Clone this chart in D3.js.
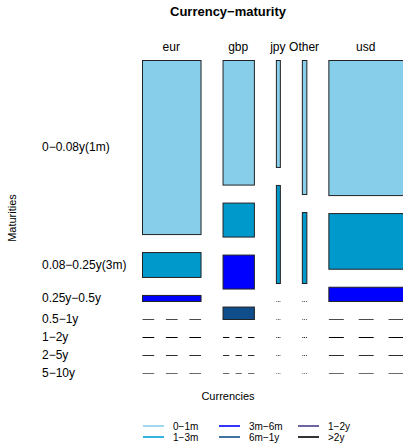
<!DOCTYPE html>
<html>
<head>
<meta charset="utf-8">
<script src="https://cdn.jsdelivr.net/npm/d3@7"></script>
<style>
  body { margin: 0; background: #fff; }
  text { font-family: "Liberation Sans", Arial, sans-serif; fill: #000; }
</style>
</head>
<body>
<svg id="chart" width="403" height="447"></svg>
<script>
// Currencies (columns) and maturity buckets (rows)
const currencies = ["eur", "gbp", "jpy", "Other", "usd"];
const maturities = ["0−0.08y(1m)", "0.08−0.25y(3m)", "0.25y−0.5y", "0.5−1y", "1−2y", "2−5y", "5−10y"];

// Amount per maturity bucket for each currency
const eurValues   = [287, 41, 10, 0, 0, 0, 0];
const gbpValues   = [110, 30, 30, 11, 0, 0, 0];
const jpyValues   = [12, 11, 0, 0, 0, 0, 0];
const otherValues = [17, 9, 0, 0, 0, 0, 0];
const usdValues   = [284, 117, 30, 0, 0, 0, 0];

// Tile fill per maturity bucket, and the colour of the empty-cell dashes
const tileColors = ["#87CEEB", "#0099CC", "#0000FF", "#104E8B", "#483D8B", "#000000", "#000000"];
const emptyColors = ["#444444", "#444444", "#444444", "#4a4a4a", "#000000", "#2e2e2e", "#6a6a6a"];

// Legend entries
const legendLabels = ["0−1m", "1−3m", "3m−6m", "6m−1y", "1−2y", ">2y"];
const legendColors = ["#87CEEB", "#00A0D8", "#0000FF", "#104E8B", "#483D8B", "#000000"];

const table = [eurValues, gbpValues, jpyValues, otherValues, usdValues];

const svg = d3.select("#chart");

// Mosaic frame
const frame = { left: 142, right: 403, top: 60, bottom: 373 };
const colGap = 22, rowGap = 18;

const colTotals = table.map(d => d3.sum(d));
const grand = d3.sum(colTotals);

const xw = d3.scaleLinear()
  .domain([0, grand])
  .range([0, (frame.right - frame.left) - colGap * (currencies.length - 1)]);

const colX = [];
let cx = frame.left;
colTotals.forEach(t => { colX.push(cx); cx += xw(t) + colGap; });

const cells = [];
table.forEach((vals, ci) => {
  const yh = d3.scaleLinear()
    .domain([0, colTotals[ci]])
    .range([0, (frame.bottom - frame.top) - rowGap * (maturities.length - 1)]);
  let y = frame.top;
  vals.forEach((v, ri) => {
    cells.push({ ci, ri, v, x: colX[ci], w: xw(colTotals[ci]), y, h: yh(v) });
    y += yh(v) + rowGap;
  });
});

// Half-pixel shift keeps the 1px outlines crisp
const g = svg.append("g").attr("transform", "translate(0.5,0.5)");

// Non-empty tiles
g.selectAll("rect.tile")
  .data(cells.filter(d => d.v > 0))
  .join("rect")
  .attr("class", "tile")
  .attr("x", d => d.x)
  .attr("y", d => d.y)
  .attr("width", d => d.w)
  .attr("height", d => d.h)
  .attr("fill", d => tileColors[d.ri])
  .attr("stroke", "#222")
  .attr("stroke-width", 1);

// Empty cells as dashed lines across the column
g.selectAll("line.empty")
  .data(cells.filter(d => d.v === 0))
  .join("line")
  .attr("class", "empty")
  .attr("x1", d => d.x)
  .attr("x2", d => d.x + d.w)
  .attr("y1", d => Math.round(d.y))
  .attr("y2", d => Math.round(d.y))
  .attr("stroke", d => emptyColors[d.ri])
  .attr("stroke-width", 1.2)
  .attr("stroke-dasharray", d => `${d.w / 5} ${d.w / 5}`);

// Column labels
svg.selectAll("text.col")
  .data(currencies)
  .join("text")
  .attr("class", "col")
  .attr("x", (d, i) => colX[i] + xw(colTotals[i]) / 2)
  .attr("y", 51)
  .attr("text-anchor", "middle")
  .style("font-size", "12px")
  .text(d => d);

// Row labels at the first column's cell centres
svg.selectAll("text.row")
  .data(maturities)
  .join("text")
  .attr("class", "row")
  .attr("x", 42)
  .attr("y", (d, i) => {
    const c = cells.find(e => e.ci === 0 && e.ri === i);
    return c.y + c.h / 2;
  })
  .attr("dy", "0.35em")
  .style("font-size", "12px")
  .text(d => d);

// Title and axis titles
svg.append("text")
  .attr("x", 228).attr("y", 16)
  .attr("text-anchor", "middle")
  .style("font-size", "13px").style("font-weight", "bold")
  .text("Currency−maturity");

svg.append("text")
  .attr("x", 228).attr("y", 400)
  .attr("text-anchor", "middle")
  .style("font-size", "11px")
  .text("Currencies");

svg.append("text")
  .attr("transform", "translate(16,218) rotate(-90)")
  .attr("text-anchor", "middle")
  .style("font-size", "11px")
  .text("Maturities");

// Legend: three columns of two rows
const legendColX = [143, 219, 298];
const legendRowY = [426, 437];
const lg = svg.append("g");
const items = lg.selectAll("g.item")
  .data(legendLabels)
  .join("g")
  .attr("class", "item")
  .attr("transform", (d, i) => `translate(${legendColX[Math.floor(i / 2)]},${legendRowY[i % 2]})`);
items.append("line")
  .attr("x1", 0).attr("x2", 21)
  .attr("y1", 0).attr("y2", 0)
  .attr("stroke", (d, i) => legendColors[i])
  .attr("stroke-width", 1.6);
items.append("text")
  .attr("x", 30).attr("y", 0).attr("dy", "0.35em")
  .style("font-size", "10px")
  .text(d => d);
</script>
</body>
</html>
